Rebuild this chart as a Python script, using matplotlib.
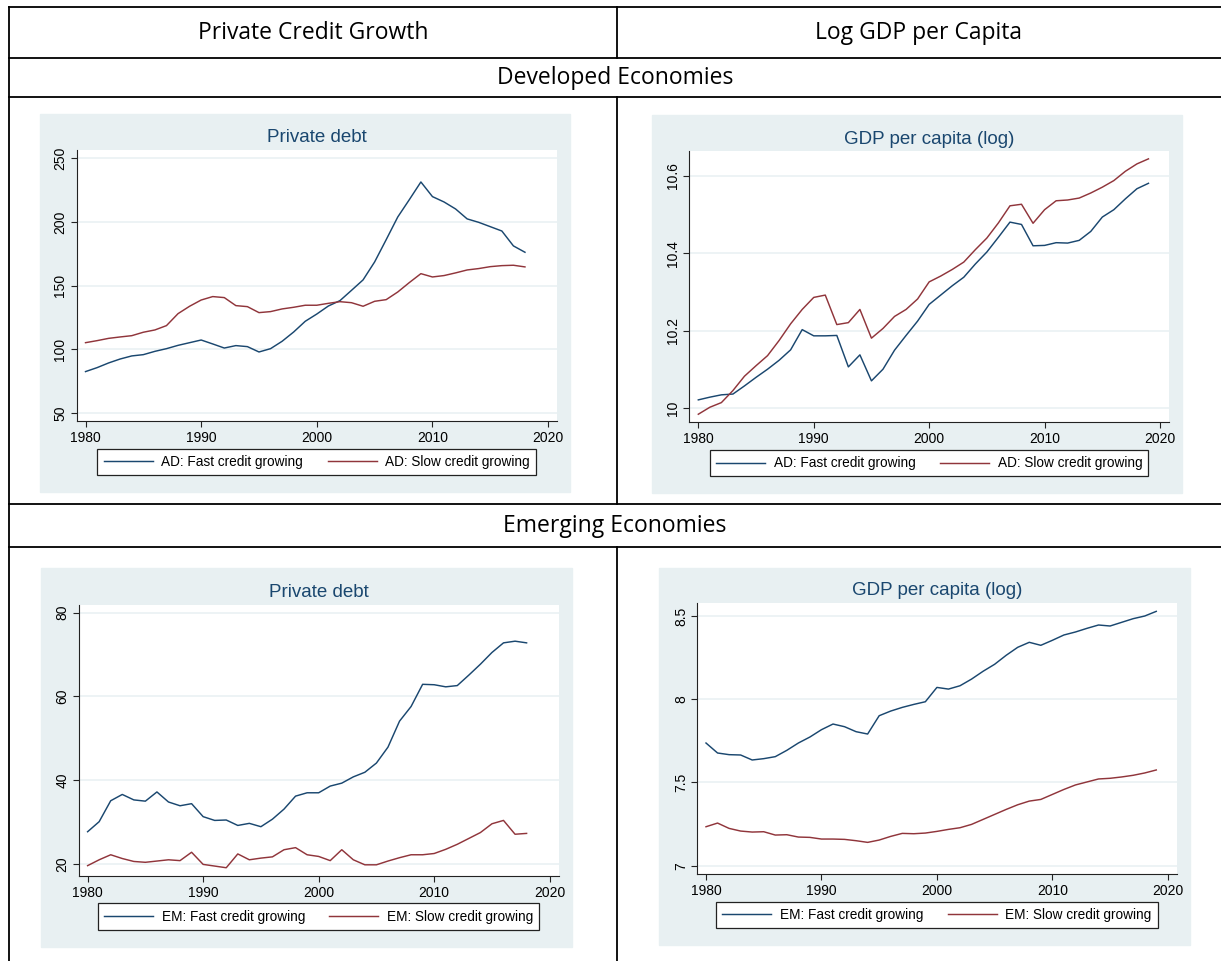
import matplotlib
matplotlib.use("Agg")
import matplotlib.pyplot as plt
from matplotlib.lines import Line2D
from matplotlib.patches import Rectangle

# ---- data -------------------------------------------------------------
years_debt = list(range(1980, 2019))
years_gdp = list(range(1980, 2020))

ad_debt_fast = [82.5, 85.6, 89.3, 92.4, 94.8, 95.8, 98.4, 100.5, 103.1, 105.2,
                107.3, 104.2, 101.0, 102.9, 102.1, 97.9, 100.5, 106.3, 113.6, 122.0,
                127.7, 134.0, 138.2, 146.3, 154.5, 168.6, 186.1, 203.9, 217.5, 231.4,
                219.9, 215.7, 210.2, 202.4, 199.7, 196.3, 192.9, 181.2, 176.2]
ad_debt_slow = [105.2, 106.8, 108.6, 109.7, 110.7, 113.4, 115.2, 118.6, 128.0, 133.8,
                138.7, 141.4, 140.6, 134.3, 133.5, 128.8, 129.6, 131.7, 133.0, 134.6,
                134.6, 136.1, 137.4, 136.6, 133.8, 137.7, 139.0, 145.0, 152.4, 159.4,
                156.8, 157.9, 160.0, 162.3, 163.4, 164.9, 165.7, 166.0, 164.7]

ad_gdp_fast = [10.022, 10.029, 10.035, 10.037, 10.058, 10.080, 10.101, 10.124, 10.151, 10.203,
               10.187, 10.187, 10.188, 10.107, 10.138, 10.071, 10.101, 10.150, 10.188, 10.225,
               10.268, 10.292, 10.316, 10.338, 10.372, 10.403, 10.441, 10.480, 10.474, 10.419,
               10.420, 10.427, 10.426, 10.433, 10.456, 10.493, 10.512, 10.540, 10.566, 10.580]
ad_gdp_slow = [9.985, 10.003, 10.015, 10.046, 10.083, 10.110, 10.136, 10.175, 10.218, 10.255,
               10.286, 10.292, 10.216, 10.221, 10.255, 10.181, 10.206, 10.237, 10.255, 10.282,
               10.326, 10.341, 10.358, 10.377, 10.409, 10.439, 10.478, 10.522, 10.526, 10.477,
               10.512, 10.535, 10.537, 10.542, 10.555, 10.570, 10.587, 10.611, 10.630, 10.643]

em_debt_fast = [27.7, 30.1, 35.1, 36.6, 35.3, 35.0, 37.2, 34.8, 33.9, 34.4,
                31.3, 30.4, 30.5, 29.2, 29.7, 28.9, 30.7, 33.1, 36.2, 37.0,
                37.0, 38.6, 39.3, 40.8, 41.9, 44.1, 47.9, 54.1, 57.6, 62.9,
                62.8, 62.3, 62.6, 65.1, 67.7, 70.5, 72.8, 73.2, 72.8]
em_debt_slow = [19.6, 21.0, 22.2, 21.3, 20.6, 20.4, 20.7, 21.0, 20.8, 22.8,
                19.9, 19.5, 19.1, 22.4, 21.0, 21.4, 21.7, 23.4, 23.9, 22.2,
                21.8, 20.8, 23.4, 21.0, 19.8, 19.8, 20.7, 21.5, 22.2, 22.2,
                22.5, 23.5, 24.7, 26.1, 27.5, 29.6, 30.4, 27.1, 27.3]

em_gdp_fast = [7.737, 7.677, 7.667, 7.665, 7.635, 7.643, 7.655, 7.693, 7.737, 7.773,
               7.817, 7.851, 7.835, 7.805, 7.791, 7.901, 7.929, 7.951, 7.969, 7.985,
               8.071, 8.061, 8.081, 8.121, 8.168, 8.210, 8.264, 8.312, 8.342, 8.324,
               8.354, 8.386, 8.404, 8.426, 8.446, 8.440, 8.462, 8.484, 8.500, 8.528]
em_gdp_slow = [7.234, 7.256, 7.224, 7.208, 7.202, 7.204, 7.184, 7.186, 7.172, 7.170,
               7.160, 7.160, 7.158, 7.150, 7.140, 7.154, 7.176, 7.194, 7.192, 7.196,
               7.206, 7.218, 7.228, 7.248, 7.278, 7.308, 7.338, 7.366, 7.388, 7.398,
               7.428, 7.458, 7.485, 7.503, 7.521, 7.525, 7.533, 7.543, 7.557, 7.575]

x_ticks = [1980, 1990, 2000, 2010, 2020]
debt_ad_ticks = [50, 100, 150, 200, 250]
gdp_ad_ticks = [10.0, 10.2, 10.4, 10.6]
gdp_ad_labels = ["10", "10.2", "10.4", "10.6"]
debt_em_ticks = [20, 40, 60, 80]
gdp_em_ticks = [7.0, 7.5, 8.0, 8.5]
gdp_em_labels = ["7", "7.5", "8", "8.5"]

col_headers = ["Private Credit Growth", "Log GDP per Capita"]
row_headers = ["Developed Economies", "Emerging Economies"]

# ---- style ------------------------------------------------------------
W, H = 1221, 961
NAVY = "#1A476F"
MAROON = "#90353B"
PANEL_BG = "#E8F0F2"
plt.rcParams["font.family"] = ["Liberation Sans", "DejaVu Sans"]

fig = plt.figure(figsize=(W / 100, H / 100), dpi=100)
fig.patch.set_facecolor("white")


def fx(x):
    return x / W


def fy(y):
    return 1 - y / H


def table_line(x0, y0, x1, y1):
    fig.add_artist(Line2D([fx(x0), fx(x1)], [fy(y0), fy(y1)], color="black",
                          lw=1.3, transform=fig.transFigure))


# table grid
for y in [7, 57.7, 97, 504.3, 547.3]:
    table_line(9, y, 1221, y)
table_line(9, 7, 9, 961)
for y0, y1 in [(7, 57.7), (97, 504.3), (547.3, 961)]:
    table_line(617.3, y0, 617.3, y1)

hdr_font = dict(family=["Open Sans", "DejaVu Sans"], fontsize=16.5, color="black",
                ha="center", va="center")
fig.text(fx(313), fy(33), col_headers[0], **hdr_font)
fig.text(fx(919), fy(33), col_headers[1], **hdr_font)
fig.text(fx(615), fy(77.5), row_headers[0], **hdr_font)
fig.text(fx(615), fy(526), row_headers[1], **hdr_font)


def panel(bg, plot, title_y, leg_y, yl, yticks, ylabels, series, names):
    # light graph region behind each chart
    bx0, by0, bx1, by1 = bg
    fig.add_artist(Rectangle((fx(bx0), fy(by1)), (bx1 - bx0) / W, (by1 - by0) / H,
                             transform=fig.transFigure, color=PANEL_BG, zorder=0))
    l, t, r, b = plot
    ax = fig.add_axes([fx(l), fy(b), (r - l) / W, (b - t) / H])
    ax.set_facecolor("white")
    for (xs, ys), col in zip(series, [NAVY, MAROON]):
        ax.plot(xs, ys, color=col, lw=1.05)
    ax.set_xlim(1979.22, 2020.77)
    ax.set_ylim(*yl)
    ax.set_xticks(x_ticks)
    ax.set_yticks(yticks)
    ax.set_yticklabels(ylabels if ylabels else [str(v) for v in yticks])
    ax.grid(axis="y", color=PANEL_BG, lw=1.1)
    ax.set_axisbelow(True)
    for s in ["top", "right"]:
        ax.spines[s].set_visible(False)
    for s in ["left", "bottom"]:
        ax.spines[s].set_color("#222222")
        ax.spines[s].set_linewidth(0.8)
    ax.tick_params(axis="both", length=4, width=0.8, color="#222222",
                   labelsize=10, labelcolor="black")
    ax.tick_params(axis="x", pad=3.5)
    ax.tick_params(axis="y", pad=2.5, labelrotation=90)
    for lab in ax.get_yticklabels():
        lab.set_va("center")
    cx = (l + r) / 2
    fig.text(fx(cx), fy(title_y), "Private debt" if yl[1] > 20 else "GDP per capita (log)",
             ha="center", va="center", fontsize=13.5, color=NAVY)
    handles = [Line2D([], [], color=NAVY, lw=1.05), Line2D([], [], color=MAROON, lw=1.05)]
    leg = ax.legend(handles, names, loc="center", bbox_to_anchor=(fx(cx), fy(leg_y)),
                    bbox_transform=fig.transFigure, ncol=2, frameon=True,
                    fancybox=False, edgecolor="#222222", framealpha=1,
                    fontsize=9.8, handlelength=3.6, handletextpad=0.64,
                    columnspacing=1.8, borderpad=0.45)
    leg.get_frame().set_linewidth(0.9)
    return ax


panel((40, 114, 570, 492), (76.5, 150, 557, 421), 137.7, 462.2,
      (43.7, 256.5), debt_ad_ticks, None,
      [(years_debt, ad_debt_fast), (years_debt, ad_debt_slow)],
      ["AD: Fast credit growing", "AD: Slow credit growing"])

panel((652, 115, 1182, 493), (689.3, 150.7, 1168.9, 422), 139, 463.3,
      (9.965, 10.664), gdp_ad_ticks, gdp_ad_labels,
      [(years_gdp, ad_gdp_fast), (years_gdp, ad_gdp_slow)],
      ["AD: Fast credit growing", "AD: Slow credit growing"])

panel((41, 568, 572, 947), (78.6, 605, 558.6, 875.7), 592.3, 916.6,
      (17.2, 81.84), debt_em_ticks, None,
      [(years_debt, em_debt_fast), (years_debt, em_debt_slow)],
      ["EM: Fast credit growing", "EM: Slow credit growing"])

panel((659, 568, 1190, 945), (697, 602.7, 1176.7, 874), 590.7, 915,
      (6.95, 8.58), gdp_em_ticks, gdp_em_labels,
      [(years_gdp, em_gdp_fast), (years_gdp, em_gdp_slow)],
      ["EM: Fast credit growing", "EM: Slow credit growing"])

fig.savefig("out.png", dpi=100, facecolor="white")
